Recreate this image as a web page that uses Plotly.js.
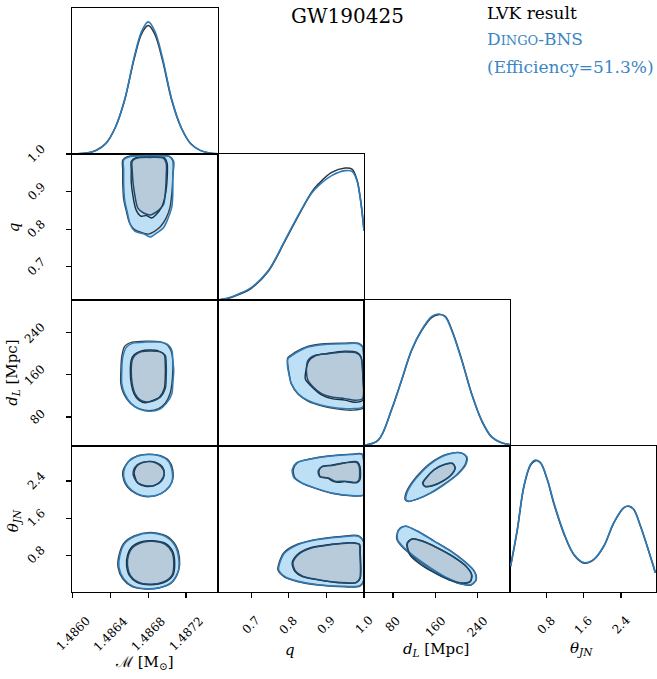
<!DOCTYPE html>
<html><head><meta charset="utf-8">
<script src="https://cdn.plot.ly/plotly-3.0.1.min.js"></script>
<style>body{margin:0;background:#fff}#plot{width:657px;height:679px}</style>
</head><body><div id="plot"></div><script>
// ---------- axis ticks ----------
const McTicks = [1.4860, 1.4864, 1.4868, 1.4872];
const qTicks = [0.7, 0.8, 0.9, 1.0];
const dLTicks = [80, 160, 240];
const thTicks = [0.8, 1.6, 2.4];

// ---------- 1D marginals (normalised height) ----------
const Mc1d_x = [1.48600,1.48615,1.48625,1.48635,1.48645,1.48655,1.48665,1.48673,1.48680,1.48687,1.48695,1.48705,1.48715,1.48725,1.48735,1.48745,1.48754];
const Mc1d_dingo = [0.0,0.006,0.025,0.07,0.18,0.37,0.66,0.84,0.905,0.84,0.66,0.37,0.18,0.07,0.025,0.006,0.001];
const Mc1d_lvk = [0.0,0.006,0.026,0.072,0.18,0.37,0.65,0.825,0.88,0.82,0.645,0.365,0.178,0.07,0.025,0.006,0.001];

const q1d_x = [0.612,0.640,0.665,0.701,0.745,0.790,0.825,0.860,0.879,0.914,0.950,0.968,0.981,0.990,0.995,1.0];
const q1d_dingo = [0.0,0.015,0.04,0.087,0.20,0.41,0.58,0.73,0.783,0.852,0.886,0.881,0.82,0.70,0.60,0.475];
const q1d_lvk = [0.0,0.012,0.035,0.082,0.195,0.405,0.575,0.735,0.795,0.874,0.904,0.897,0.825,0.70,0.60,0.475];

const dL1d_x = [26,52.1,77.3,96.3,115.3,134.2,153.2,165.9,178.6,191.1,210.1,229,248,267,285.9,302];
const dL1d_dingo = [0.005,0.04,0.247,0.45,0.658,0.795,0.886,0.904,0.886,0.795,0.59,0.36,0.178,0.064,0.023,0.01];
const dL1d_lvk = [0.005,0.04,0.25,0.45,0.655,0.79,0.88,0.90,0.89,0.80,0.595,0.36,0.175,0.062,0.022,0.01];

const th1d_x = [0.028,0.172,0.313,0.457,0.564,0.671,0.815,0.957,1.171,1.386,1.6,1.815,2.029,2.243,2.458,2.565,2.672,2.816,2.959,3.137];
const th1d_dingo = [0.178,0.429,0.726,0.874,0.904,0.886,0.772,0.612,0.406,0.258,0.201,0.224,0.315,0.475,0.578,0.589,0.566,0.452,0.315,0.132];
const th1d_lvk = [0.175,0.425,0.72,0.87,0.90,0.883,0.77,0.605,0.40,0.255,0.198,0.222,0.312,0.472,0.576,0.587,0.565,0.452,0.315,0.132];

// ---------- 2D credible contours (50% and 90%) ----------
// q vs Mc
const qMc_D90 = [[1.48654,0.984],[1.48661,0.993],[1.48682,0.995],[1.48703,0.993],[1.48707,0.980],[1.48706,0.940],[1.48706,0.896],[1.48705,0.860],[1.48701,0.829],[1.48696,0.803],[1.48689,0.790],[1.48682,0.779],[1.48675,0.788],[1.48666,0.794],[1.48661,0.812],[1.48658,0.843],[1.48655,0.878],[1.48654,0.922],[1.48654,0.958]];
const qMc_D50 = [[1.48663,0.980],[1.48668,0.989],[1.48682,0.991],[1.48696,0.989],[1.48699,0.975],[1.48699,0.940],[1.48698,0.896],[1.48696,0.865],[1.48689,0.847],[1.48682,0.838],[1.48675,0.843],[1.48669,0.856],[1.48666,0.887],[1.48664,0.922],[1.48663,0.958]];
const qMc_L90 = [[1.48653,0.984],[1.48660,0.994],[1.48682,0.996],[1.48702,0.994],[1.48706,0.982],[1.48706,0.940],[1.48705,0.896],[1.48703,0.858],[1.48699,0.830],[1.48693,0.807],[1.48687,0.795],[1.48680,0.787],[1.48672,0.792],[1.48665,0.800],[1.48660,0.818],[1.48657,0.846],[1.48654,0.880],[1.48653,0.922],[1.48653,0.958]];
const qMc_L50 = [[1.48662,0.980],[1.48667,0.990],[1.48682,0.992],[1.48697,0.990],[1.48700,0.975],[1.48700,0.935],[1.48698,0.890],[1.48694,0.858],[1.48688,0.838],[1.48684,0.830],[1.48678,0.836],[1.48672,0.835],[1.48667,0.852],[1.48664,0.885],[1.48662,0.925],[1.48662,0.958]];
// dL vs Mc
const dLMc_D90 = [[1.48657,212.7],[1.48664,220.2],[1.48678,222.1],[1.48692,222.1],[1.48701,217.1],[1.48705,206.4],[1.48706,187.5],[1.48707,168.5],[1.48706,143.3],[1.48705,124.3],[1.48699,105.4],[1.48692,94.6],[1.48682,90.8],[1.48671,94.6],[1.48662,105.4],[1.48655,124.3],[1.48652,143.3],[1.48652,168.5],[1.48653,193.7]];
const dLMc_D50 = [[1.48666,197],[1.48673,204.1],[1.48682,205.4],[1.48692,204.1],[1.48698,197],[1.48699,181.2],[1.48699,155.8],[1.48698,133.8],[1.48693,117.9],[1.48685,110.3],[1.48678,108.4],[1.48671,113],[1.48666,124.3],[1.48663,143.3],[1.48662,168.5],[1.48663,187.5]];
const dLMc_L90 = [[1.48655,214],[1.48663,222],[1.48678,224],[1.48692,223],[1.48700,217],[1.48704,206],[1.48706,187],[1.48706,168],[1.48705,143],[1.48703,124],[1.48698,106],[1.48691,96],[1.48681,92],[1.48670,96],[1.48661,106],[1.48654,124],[1.48651,143],[1.48651,168],[1.48652,195]];
const dLMc_L50 = [[1.48665,198],[1.48672,205],[1.48681,207],[1.48691,205],[1.48697,198],[1.48698,181],[1.48698,156],[1.48697,134],[1.48692,118],[1.48684,111],[1.48677,107],[1.48670,112],[1.48665,124],[1.48662,143],[1.48661,168],[1.48662,188]];
// dL vs q
const dLq_D90 = [[0.798,190.7],[0.816,200.2],[0.851,212.7],[0.896,217.8],[0.949,219.1],[0.985,219.1],[0.996,212.7],[1.0,174.8],[1.0,136.9],[0.997,98.9],[0.967,95.9],[0.923,97.8],[0.887,102.2],[0.851,111.6],[0.825,124.3],[0.807,143.3],[0.800,162.3],[0.796,181.2]];
const dLq_D50 = [[0.851,187.5],[0.869,197],[0.905,200.2],[0.949,203.2],[0.980,201.3],[0.992,193.7],[0.997,155.8],[0.996,114.9],[0.976,111.6],[0.949,114.9],[0.914,117.9],[0.887,124.3],[0.865,136.9],[0.851,149.6],[0.847,165.3]];
const dLq_L90 = [[0.797,192],[0.815,202],[0.850,214],[0.896,219],[0.949,220],[0.985,220],[0.996,214],[1.0,175],[1.0,137],[0.997,97],[0.967,93],[0.923,96],[0.887,101],[0.851,110],[0.825,123],[0.807,142],[0.801,162],[0.797,181]];
const dLq_L50 = [[0.853,186],[0.870,196],[0.905,201],[0.949,205],[0.980,203],[0.992,194],[0.997,156],[0.997,112],[0.976,108],[0.949,112],[0.914,115],[0.887,122],[0.863,136],[0.844,152],[0.845,166]];
// theta_JN vs Mc (two modes)
const thMc_D90a = [[1.48654,2.594],[1.48659,2.809],[1.48668,2.931],[1.48680,2.968],[1.48692,2.938],[1.48701,2.83],[1.48705,2.63],[1.48705,2.379],[1.48699,2.2],[1.48689,2.093],[1.48678,2.071],[1.48668,2.129],[1.48659,2.271],[1.48655,2.415]];
const thMc_D50a = [[1.48664,2.594],[1.48668,2.738],[1.48677,2.809],[1.48687,2.796],[1.48694,2.701],[1.48697,2.559],[1.48694,2.4],[1.48687,2.308],[1.48678,2.293],[1.48669,2.357],[1.48665,2.473]];
const thMc_L90a = [[1.48653,2.6],[1.48659,2.82],[1.48669,2.94],[1.48681,2.975],[1.48693,2.94],[1.48702,2.83],[1.48706,2.63],[1.48705,2.37],[1.48698,2.19],[1.48688,2.085],[1.48677,2.065],[1.48667,2.125],[1.48658,2.27],[1.48654,2.42]];
const thMc_L50a = [[1.48665,2.6],[1.48669,2.745],[1.48678,2.815],[1.48688,2.80],[1.48695,2.70],[1.48697,2.55],[1.48693,2.39],[1.48686,2.30],[1.48677,2.285],[1.48669,2.35],[1.48666,2.48]];
const thMc_D90b = [[1.48650,0.803],[1.48655,1.054],[1.48666,1.211],[1.48682,1.282],[1.48698,1.211],[1.48708,1.018],[1.48712,0.766],[1.48712,0.48],[1.48705,0.229],[1.48692,0.108],[1.48678,0.087],[1.48664,0.136],[1.48654,0.302],[1.48649,0.551]];
const thMc_D50b = [[1.48659,0.803],[1.48664,0.981],[1.48675,1.089],[1.48685,1.104],[1.48698,1.039],[1.48705,0.874],[1.48707,0.624],[1.48705,0.373],[1.48696,0.229],[1.48682,0.179],[1.48669,0.229],[1.48661,0.373],[1.48658,0.588]];
const thMc_L90b = [[1.48649,0.80],[1.48654,1.06],[1.48665,1.22],[1.48682,1.295],[1.48699,1.22],[1.48709,1.02],[1.48713,0.76],[1.48712,0.47],[1.48705,0.22],[1.48691,0.10],[1.48677,0.08],[1.48663,0.13],[1.48653,0.30],[1.48648,0.55]];
const thMc_L50b = [[1.48658,0.80],[1.48663,0.99],[1.48674,1.10],[1.48685,1.115],[1.48699,1.05],[1.48706,0.88],[1.48708,0.62],[1.48706,0.37],[1.48697,0.22],[1.48682,0.17],[1.48668,0.22],[1.48660,0.37],[1.48657,0.59]];
// theta_JN vs q
const thq_D90a = [[0.809,2.645],[0.820,2.787],[0.851,2.86],[0.905,2.931],[0.967,2.968],[0.995,2.968],[1.0,2.716],[1.0,2.108],[0.967,2.086],[0.914,2.142],[0.869,2.25],[0.834,2.357],[0.814,2.465]];
const thq_D50a = [[0.878,2.609],[0.887,2.701],[0.914,2.731],[0.949,2.787],[0.980,2.802],[0.987,2.716],[0.987,2.43],[0.980,2.372],[0.949,2.394],[0.923,2.394],[0.905,2.465],[0.883,2.486]];
const thq_L90a = [[0.812,2.65],[0.823,2.79],[0.853,2.865],[0.905,2.935],[0.967,2.975],[0.995,2.975],[1.0,2.72],[1.0,2.10],[0.967,2.08],[0.914,2.135],[0.869,2.245],[0.835,2.355],[0.816,2.47]];
const thq_L50a = [[0.880,2.61],[0.889,2.71],[0.914,2.74],[0.949,2.79],[0.982,2.81],[0.989,2.72],[0.989,2.42],[0.980,2.36],[0.949,2.385],[0.930,2.37],[0.915,2.40],[0.905,2.455],[0.884,2.49]];
const thq_D90b = [[0.776,0.637],[0.789,0.852],[0.825,1.033],[0.878,1.14],[0.940,1.196],[0.985,1.211],[1.0,1.067],[1.0,0.28],[0.989,0.151],[0.949,0.136],[0.878,0.173],[0.825,0.244],[0.789,0.351],[0.773,0.495]];
const thq_D50b = [[0.811,0.637],[0.825,0.818],[0.860,0.96],[0.914,1.033],[0.967,1.067],[0.987,1.033],[0.989,0.852],[0.989,0.315],[0.980,0.222],[0.931,0.222],[0.878,0.28],[0.838,0.351],[0.818,0.459]];
const thq_L90b = [[0.774,0.64],[0.787,0.86],[0.823,1.04],[0.878,1.15],[0.940,1.21],[0.985,1.225],[1.0,1.08],[1.0,0.27],[0.989,0.14],[0.949,0.125],[0.878,0.165],[0.825,0.235],[0.787,0.345],[0.771,0.49]];
const thq_L50b = [[0.809,0.64],[0.823,0.82],[0.858,0.965],[0.914,1.04],[0.967,1.075],[0.988,1.04],[0.990,0.85],[0.990,0.31],[0.980,0.215],[0.931,0.215],[0.878,0.275],[0.836,0.345],[0.816,0.46]];
// theta_JN vs dL
const thdL_D90a = [[104.6,2.0],[106.5,2.142],[117.2,2.357],[136.1,2.609],[158.3,2.824],[183.5,2.968],[208.9,3.002],[220.3,2.916],[218.4,2.753],[202.5,2.538],[177.3,2.323],[152,2.142],[126.6,2.013],[110.9,1.964]];
const thdL_D50a = [[136.1,2.357],[142.6,2.465],[158.3,2.645],[177.3,2.753],[193,2.774],[197.6,2.68],[191.1,2.538],[174,2.394],[155.1,2.301],[140.7,2.286]];
const thdL_L90a = [[103,2.0],[105,2.15],[116,2.37],[135,2.62],[157,2.83],[183,2.975],[208,3.005],[219,2.92],[217,2.75],[201,2.535],[176,2.32],[151,2.14],[126,2.01],[108,1.96]];
const thdL_L50a = [[137,2.35],[143,2.46],[158,2.64],[177,2.75],[193,2.775],[198,2.685],[191,2.535],[174,2.39],[155,2.295],[141,2.28]];
const thdL_D90b = [[88.7,1.282],[95.2,1.39],[104.6,1.426],[126.6,1.319],[158.3,1.104],[190,0.889],[215.2,0.674],[234.1,0.459],[237.4,0.28],[227.9,0.173],[208.9,0.194],[183.5,0.315],[152,0.53],[120.4,0.781],[98.2,0.996],[88.7,1.14]];
const thdL_D50b = [[107.7,1.067],[117.2,1.153],[136.1,1.104],[164.6,0.96],[193,0.781],[218.4,0.566],[229,0.388],[226.6,0.244],[212,0.207],[186.7,0.28],[155.1,0.459],[129.9,0.637],[112.8,0.818],[107.7,0.96]];
const thdL_L90b = [[88,1.28],[94,1.395],[104,1.43],[126,1.325],[158,1.11],[190,0.895],[215,0.68],[234.5,0.46],[238,0.275],[228,0.165],[208,0.188],[183,0.31],[151,0.525],[119,0.775],[97,0.99],[87.5,1.14]];
const thdL_L50b = [[107,1.07],[117,1.16],[136,1.11],[164,0.965],[193,0.785],[219,0.565],[229.5,0.385],[227,0.24],[212,0.2],[186,0.275],[154,0.455],[129,0.635],[112,0.815],[107,0.96]];

// ---------- styling ----------
const FONT = 'DejaVu Serif, Liberation Serif, serif';
const C_D90_FILL = '#bde0f6', C_D50_FILL = '#b8cbda';
const C_D90_LINE = '#2b7bba', C_D50_LINE = '#1d4b70';
const C_L90 = '#3c3c3c', C_L50 = '#1f2d3a';
const C_DINGO = '#2b7bba', C_LVK = '#333333';
const C_LEG = '#3a86c4';

const params = ['Mc', 'q', 'dL', 'th'];
const ranges = {Mc: [1.485993, 1.487538], q: [0.6117, 1.0], dL: [25, 302], th: [0.015, 3.15]};
const ticksOf = {Mc: McTicks, q: qTicks, dL: dLTicks, th: thTicks};
const fmtOf = {Mc: v => v.toFixed(4), q: v => v.toFixed(1), dL: v => String(v), th: v => v.toFixed(1)};

const diag = {
  Mc: [Mc1d_x, Mc1d_dingo, Mc1d_lvk],
  q: [q1d_x, q1d_dingo, q1d_lvk],
  dL: [dL1d_x, dL1d_dingo, dL1d_lvk],
  th: [th1d_x, th1d_dingo, th1d_lvk]
};
const contours = {
  '1,0': [[qMc_D90, qMc_D50, qMc_L90, qMc_L50]],
  '2,0': [[dLMc_D90, dLMc_D50, dLMc_L90, dLMc_L50]],
  '2,1': [[dLq_D90, dLq_D50, dLq_L90, dLq_L50]],
  '3,0': [[thMc_D90a, thMc_D50a, thMc_L90a, thMc_L50a], [thMc_D90b, thMc_D50b, thMc_L90b, thMc_L50b]],
  '3,1': [[thq_D90a, thq_D50a, thq_L90a, thq_L50a], [thq_D90b, thq_D50b, thq_L90b, thq_L50b]],
  '3,2': [[thdL_D90a, thdL_D50a, thdL_L90a, thdL_L50a], [thdL_D90b, thdL_D50b, thdL_L90b, thdL_L50b]]
};

function closed(pts) {
  const x = pts.map(p => p[0]), y = pts.map(p => p[1]);
  x.push(x[0]); y.push(y[0]);
  return {x, y};
}

const traces = [];
const layout = {
  width: 657, height: 679,
  margin: {l: 72, r: 1, t: 8, b: 87, pad: 0},
  paper_bgcolor: '#fff', plot_bgcolor: '#fff',
  showlegend: false,
  font: {family: FONT, color: '#000'},
  annotations: []
};
const ann = (text, x, y, opts) => layout.annotations.push(Object.assign({
  text, x, y, xref: 'paper', yref: 'paper', showarrow: false,
  xanchor: 'center', yanchor: 'middle',
  font: {family: FONT, size: 15, color: '#000'}
}, opts || {}));
const TICKFONT = {family: FONT, size: 12, color: '#000'};

let n = 0;
for (let row = 0; row < 4; row++) {
  for (let col = 0; col <= row; col++) {
    n++;
    const xs = n === 1 ? '' : String(n);
    const xa = 'x' + xs, ya = 'y' + xs;
    const px = params[col], py = params[row];
    const bottom = row === 3, left = col === 0 && row > 0;
    const isDiag = row === col;
    layout['xaxis' + xs] = {
      domain: [col * 0.25, (col + 1) * 0.25], anchor: ya, range: ranges[px],
      showline: true, mirror: true, linecolor: '#000', linewidth: 1.3,
      showgrid: false, zeroline: false,
      tickvals: bottom ? ticksOf[px] : [], ticks: bottom ? 'outside' : '',
      ticklen: 5, tickwidth: 1.3, tickcolor: '#000', showticklabels: false
    };
    layout['yaxis' + xs] = {
      domain: [1 - (row + 1) * 0.25, 1 - row * 0.25], anchor: xa,
      range: isDiag ? [0, 1] : ranges[py],
      showline: true, mirror: true, linecolor: '#000', linewidth: 1.3,
      showgrid: false, zeroline: false,
      tickvals: left ? ticksOf[py] : [], ticks: left ? 'outside' : '',
      ticklen: 5, tickwidth: 1.3, tickcolor: '#000', showticklabels: false
    };
    // rotated tick labels, placed on the axis scale (centred on each tick, as matplotlib does)
    if (bottom) ticksOf[px].forEach(v => ann(fmtOf[px](v), v, -0.0325,
      {xref: xa, yanchor: 'top', textangle: -45, font: TICKFONT}));
    if (left) ticksOf[py].forEach(v => ann(fmtOf[py](v), -0.0368, v,
      {yref: ya, xanchor: 'right', textangle: -45, font: TICKFONT}));

    if (isDiag) {
      const [gx, gd, gl] = diag[px];
      traces.push({type: 'scatter', mode: 'lines', x: gx, y: gl, xaxis: xa, yaxis: ya,
        line: {color: C_LVK, width: 1.6, shape: 'spline', smoothing: 1}, hoverinfo: 'skip'});
      traces.push({type: 'scatter', mode: 'lines', x: gx, y: gd, xaxis: xa, yaxis: ya,
        line: {color: C_DINGO, width: 1.6, shape: 'spline', smoothing: 1}, hoverinfo: 'skip'});
    } else {
      const sets = contours[row + ',' + col];
      const fill = (pts, c) => { const p = closed(pts); traces.push({type: 'scatter', mode: 'lines', x: p.x, y: p.y, xaxis: xa, yaxis: ya,
        fill: 'toself', fillcolor: c, line: {width: 0, color: 'rgba(0,0,0,0)', shape: 'spline', smoothing: 0.8}, hoverinfo: 'skip'}); };
      const line = (pts, c, w) => { const p = closed(pts); traces.push({type: 'scatter', mode: 'lines', x: p.x, y: p.y, xaxis: xa, yaxis: ya,
        line: {width: w, color: c, shape: 'spline', smoothing: 0.8}, hoverinfo: 'skip'}); };
      sets.forEach(s => fill(s[0], C_D90_FILL));
      sets.forEach(s => fill(s[1], C_D50_FILL));
      sets.forEach(s => { line(s[2], C_L90, 1.4); line(s[3], C_L50, 1.4); });
      sets.forEach(s => { line(s[0], C_D90_LINE, 1.5); line(s[1], C_D50_LINE, 1.5); });
    }
  }
}

// axis titles
ann('ℳ [M<sub>⊙</sub>]', 0.124, -0.12);
ann('<i>q</i>', 0.373, -0.099);
ann('<i>d</i><sub><i>L</i></sub> [Mpc]', 0.623, -0.099);
ann('<i>θ</i><sub><i>JN</i></sub>', 0.873, -0.096);
ann('<i>q</i>', -0.099, 0.625, {textangle: -90});
ann('<i>d</i><sub><i>L</i></sub> [Mpc]', -0.103, 0.375, {textangle: -90});
ann('<i>θ</i><sub><i>JN</i></sub>', -0.099, 0.1216, {textangle: -90});

// title and legend text
ann('GW190425', 0.471, 0.986, {font: {family: FONT, size: 20, color: '#000'}});
ann('LVK result', 0.7072, 0.9914, {xanchor: 'left', font: {family: FONT, size: 17, color: '#000'}});
ann('D<span style="font-size:13px">INGO</span>-BNS', 0.7072, 0.947, {xanchor: 'left', font: {family: FONT, size: 17, color: C_LEG}});
ann('(Efficiency=51.3%)', 0.7072, 0.899, {xanchor: 'left', font: {family: FONT, size: 17, color: C_LEG}});

Plotly.newPlot('plot', traces, layout, {staticPlot: true, displayModeBar: false});
</script></body></html>
